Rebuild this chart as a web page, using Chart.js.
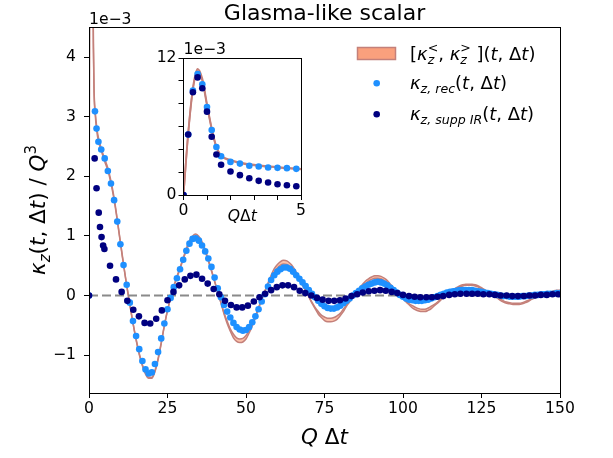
<!DOCTYPE html>
<html><head><meta charset="utf-8">
<script src="https://cdn.jsdelivr.net/npm/chart.js@4.4.1/dist/chart.umd.min.js"></script>
<style>
html,body{margin:0;padding:0;background:#fff;}
#wrap{position:relative;width:613px;height:458px;background:#fff;}
#main{position:absolute;left:0;top:0;width:613px;height:458px;}
#inset{position:absolute;left:130px;top:30px;width:185px;height:200px;}
</style></head><body>
<div id="wrap"><canvas id="main" width="613" height="458"></canvas><canvas id="inset" width="185" height="200"></canvas></div>
<script>
// ---------------- data (values in units of 1e-3) ----------------
const xTicks = [0, 25, 50, 75, 100, 125, 150];
const yTicks = [-1, 0, 1, 2, 3, 4];
const insetXTicks = [0, 1, 2, 3, 4, 5];
const insetYTicks = [0, 2, 4, 6, 8, 10, 12];

// band [kappa_z^<, kappa_z^>]
const bandX = [0,0.2,0.4,0.6,0.8,1.0,1.2,1.4,1.6,2,2.5,3,4,5,
 6,7,8,9,10,11,12,13,14,15,16,17,18,19,20,21,22,23,24,25,26,27,28,29,30,
 31,32,33,34,35,36,37,38,39,40,41,42,43,44,45,46,47,48,49,50,51,52,53,54,55,
 56,57,58,59,60,61,62,63,64,65,66,67,68,69,70,71,72,73,74,75,76,77,78,79,80,
 81,82,83,84,85,86,87,88,89,90,91,92,93,94,95,96,97,98,99,100,101,102,103,104,105,
 106,107,108,109,110,111,112,113,114,115,116,117,118,119,120,121,122,123,124,125,
 126,127,128,129,130,131,132,133,134,135,136,137,138,139,140,141,142,143,144,145,
 146,147,148,149,150];
const kappaGreater = [0,5.45,9.39,11.05,10.2,7.98,5.86,4.24,3.48,3.08,2.81,2.65,2.45,2.29,
 2.14,1.92,1.64,1.28,0.90,0.53,0.17,-0.15,-0.46,-0.75,-0.99,-1.18,-1.32,-1.39,-1.39,-1.28,-1.08,-0.81,-0.51,-0.25,-0.04,0.15,0.32,0.47,0.63,
 0.79,0.92,1.00,1.03,0.99,0.90,0.77,0.60,0.43,0.24,0.06,-0.12,-0.31,-0.47,-0.60,-0.71,-0.77,-0.79,-0.78,-0.73,-0.63,-0.51,-0.37,-0.22,-0.07,
 0.07,0.21,0.34,0.45,0.52,0.57,0.59,0.58,0.54,0.48,0.39,0.30,0.19,0.08,-0.02,-0.13,-0.22,-0.31,-0.37,-0.42,-0.44,-0.44,-0.43,-0.40,-0.34,
 -0.27,-0.18,-0.11,-0.03,0.04,0.12,0.18,0.24,0.28,0.31,0.33,0.33,0.32,0.29,0.25,0.19,0.13,0.06,0.01,-0.05,-0.11,-0.16,-0.21,-0.24,-0.26,
 -0.27,-0.27,-0.25,-0.22,-0.17,-0.13,-0.08,-0.03,0.01,0.05,0.10,0.13,0.16,0.18,0.19,0.19,0.19,0.18,0.16,0.13,
 0.10,0.06,0.02,-0.01,-0.04,-0.08,-0.11,-0.13,-0.14,-0.15,-0.15,-0.15,-0.14,-0.12,-0.10,-0.06,-0.04,-0.01,0.01,0.03,
 0.05,0.06,0.08,0.09,0.09];
const kappaLess = [0,5.35,9.21,10.85,10.0,7.82,5.74,4.16,3.42,3.02,2.75,2.59,2.41,2.25,
 2.10,1.88,1.60,1.26,0.88,0.51,0.17,-0.15,-0.46,-0.73,-0.97,-1.16,-1.30,-1.37,-1.37,-1.26,-1.06,-0.79,-0.50,-0.25,-0.04,0.15,0.30,0.45,0.61,
 0.75,0.88,0.96,0.99,0.95,0.86,0.74,0.58,0.41,0.24,0.06,-0.12,-0.29,-0.43,-0.56,-0.65,-0.71,-0.73,-0.72,-0.67,-0.59,-0.47,-0.35,-0.20,-0.07,
 0.07,0.19,0.30,0.39,0.46,0.51,0.53,0.52,0.48,0.42,0.35,0.26,0.17,0.08,-0.02,-0.11,-0.20,-0.27,-0.33,-0.36,-0.38,-0.38,-0.37,-0.34,-0.30,
 -0.23,-0.16,-0.09,-0.03,0.04,0.10,0.16,0.20,0.24,0.27,0.29,0.29,0.28,0.25,0.21,0.17,0.11,0.06,0.01,-0.05,-0.09,-0.14,-0.17,-0.20,-0.22,
 -0.23,-0.23,-0.21,-0.18,-0.15,-0.11,-0.06,-0.03,0.01,0.05,0.08,0.11,0.14,0.16,0.17,0.17,0.17,0.16,0.14,0.11,
 0.08,0.06,0.02,-0.01,-0.04,-0.06,-0.09,-0.11,-0.12,-0.13,-0.13,-0.13,-0.12,-0.10,-0.08,-0.06,-0.04,-0.01,0.01,0.03,
 0.05,0.06,0.06,0.07,0.07];

// kappa_{z,rec} (main panel)
const recX = [0,1.9,2.4,3.0,3.9,5,6,7,8,9,10,11,12,13,14,15,16,17,18,19,20,21,22,23,24,25,26,27,28,29,30,
 31,32,33,34,35,36,37,38,39,40,41,42,43,44,45,46,47,48,49,50,51,52,53,54,55,56,57,58,59,60,
 61,62,63,64,65,66,67,68,69,70,71,72,73,74,75,76,77,78,79,80,81,82,83,84,85,86,87,88,89,90,
 91,92,93,94,95,96,97,98,99,100,101,102,103,104,105,106,107,108,109,110,111,112,113,114,115,116,117,118,119,120,
 121,122,123,124,125,126,127,128,129,130,131,132,133,134,135,136,137,138,139,140,141,142,143,144,145,146,147,148,149,150];
const recY = [0,3.09,2.80,2.58,2.45,2.30,2.09,1.88,1.60,1.24,0.86,0.51,0.18,-0.12,-0.43,-0.68,-0.90,-1.10,-1.24,-1.31,-1.29,-1.15,-0.95,-0.72,-0.47,-0.23,-0.04,0.14,0.29,0.44,0.60,
 0.75,0.87,0.95,0.96,0.92,0.84,0.74,0.62,0.48,0.30,0.12,-0.03,-0.16,-0.27,-0.37,-0.46,-0.53,-0.57,-0.59,-0.58,-0.53,-0.45,-0.35,-0.23,-0.10,0.02,0.15,0.26,0.34,0.40,
 0.44,0.47,0.47,0.45,0.40,0.34,0.28,0.22,0.16,0.09,0.03,-0.03,-0.09,-0.14,-0.18,-0.21,-0.22,-0.22,-0.20,-0.17,-0.13,-0.09,-0.05,0.00,0.04,0.08,0.12,0.15,0.18,0.20,
 0.22,0.23,0.22,0.20,0.17,0.13,0.09,0.05,0.01,-0.02,-0.05,-0.07,-0.08,-0.09,-0.09,-0.09,-0.08,-0.07,-0.05,-0.03,-0.01,0.01,0.03,0.05,0.06,0.07,0.08,0.09,0.09,0.09,
 0.09,0.09,0.08,0.07,0.06,0.05,0.04,0.03,0.02,0.01,0.00,-0.01,-0.01,-0.02,-0.02,-0.02,-0.02,-0.01,-0.01,0.00,0.00,0.01,0.01,0.02,0.02,0.03,0.03,0.03,0.04,0.04];

// kappa_{z,supp IR} (main panel)
const suppX = [0,1.8,2.4,3.1,3.5,4.0,4.5,4.9,6.7,8.6,10.4,12.2,14.1,15.9,17.7,19.5,21.4,23.2,25.0,26.9,28.7,30.5,32.3,34.2,36.0,37.8,39.7,41.5,
 43.3,45.2,47.0,48.8,50.6,52.5,54.3,56.1,58.0,59.8,61.6,63.4,65.3,67.1,68.9,70.8,72.6,74.4,76.3,78.1,79.9,81.7,83.6,85.4,87.2,89.1,90.9,92.7,94.5,96.4,
 98.2,100.0,101.9,103.7,105.5,107.4,109.2,111.0,112.8,114.7,116.5,118.3,120.2,122.0,123.8,125.6,127.5,129.3,131.1,133.0,134.8,136.6,138.5,140.3,142.1,143.9,145.8,147.6,149.4];
const suppY = [0,2.30,1.80,1.39,1.15,0.98,0.84,0.78,0.50,0.27,0.06,-0.09,-0.24,-0.35,-0.46,-0.47,-0.39,-0.25,-0.08,0.06,0.17,0.27,0.33,0.35,0.28,0.20,0.11,0.02,
 -0.09,-0.16,-0.20,-0.20,-0.17,-0.10,-0.03,0.03,0.09,0.14,0.17,0.17,0.14,0.08,0.04,0.00,-0.04,-0.07,-0.09,-0.09,-0.08,-0.05,-0.01,0.02,0.05,0.07,0.08,0.09,0.08,0.06,
 0.04,0.01,-0.01,-0.02,-0.03,-0.03,-0.03,-0.02,-0.01,0.01,0.02,0.03,0.03,0.03,0.03,0.02,0.02,0.01,0.00,0.00,-0.01,-0.01,-0.01,0.00,0.00,0.01,0.01,0.02,0.02];

// inset (early times)
const insetX = [0,0.2,0.4,0.6,0.8,1.0,1.2,1.4,1.6,2.0,2.4,2.8,3.2,3.6,4.0,4.4,4.8];
const insetRec = [0,5.3,9.15,10.6,9.7,7.7,5.7,4.2,3.4,2.9,2.75,2.56,2.5,2.41,2.38,2.35,2.29];
const insetSupp = [0,5.3,9.0,10.3,9.35,7.3,5.1,3.55,2.65,2.06,1.74,1.47,1.24,1.09,0.94,0.85,0.76];

// ---------------- styling ----------------
const FF = '"DejaVu Sans"';
const REC = '#1e90ff', SUPP = '#000080', EDGE = 'rgb(196,128,122)', FILL = 'rgb(250,160,125)', BANDFILL = 'rgba(250,160,125,0.65)';
Chart.defaults.font.family = FF;
Chart.defaults.color = '#000';
const pts = (xs, ys) => xs.map((x, i) => ({x: x, y: ys[i]}));
const fmt = v => (v < 0 ? '\u2212' + (-v) : String(v));

function segFont(size, s){ return (s.it ? 'italic ' : '') + (size * (s.sz || 1)) + 'px ' + FF; }
function richWidth(ctx, segs, size){
  let w = 0, pend = 0;
  for (const s of segs){ ctx.font = segFont(size, s); const sw = ctx.measureText(s.t).width;
    if (s.stack) pend = Math.max(pend, sw); else { w += Math.max(sw, pend); pend = 0; } }
  return w;
}
function drawRich(ctx, segs, x, y, size, align){
  const w = richWidth(ctx, segs, size);
  let cx = align === 'center' ? x - w / 2 : (align === 'right' ? x - w : x);
  let pend = 0;
  ctx.textAlign = 'left'; ctx.textBaseline = 'alphabetic';
  for (const s of segs){ ctx.font = segFont(size, s); const sw = ctx.measureText(s.t).width;
    ctx.fillText(s.t, cx, y + (s.dy || 0) * size);
    if (s.stack) pend = Math.max(pend, sw); else { cx += Math.max(sw, pend); pend = 0; } }
}
const SUB = {sz: 0.7, dy: 0.22}, SUP = {sz: 0.7, dy: -0.42};
const tArgs = [{t:'('},{t:'t',it:1},{t:', \u0394'},{t:'t',it:1},{t:')'}];
const yLabelSegs = [{t:'\u03ba',it:1},Object.assign({t:'z',it:1},SUB),{t:'('},{t:'t',it:1},{t:', \u0394'},{t:'t',it:1},{t:') / '},{t:'Q',it:1},Object.assign({t:'3'},SUP)];
const xLabelSegs = [{t:'Q',it:1},{t:' \u0394'},{t:'t',it:1}];
const insetXLabelSegs = [{t:'Q',it:1},{t:'\u0394'},{t:'t',it:1}];
const leg1 = [{t:'['},{t:'\u03ba',it:1},Object.assign({t:'<',stack:1},SUP),Object.assign({t:'z',it:1},{sz:0.7,dy:0.26}),{t:', '},
  {t:'\u03ba',it:1},Object.assign({t:'>',stack:1},SUP),Object.assign({t:'z',it:1},{sz:0.7,dy:0.26}),{t:' ]'}].concat(tArgs);
const leg2 = [{t:'\u03ba',it:1},Object.assign({t:'z, rec',it:1},SUB)].concat(tArgs);
const leg3 = [{t:'\u03ba',it:1},Object.assign({t:'z, supp IR',it:1},SUB)].concat(tArgs);

function alignPx(p){ return Math.round(p - 0.5) + 0.5; }
const framePlugin = { id:'frame', afterDraw(c){
  const a = c.chartArea, ctx = c.ctx; ctx.save(); ctx.strokeStyle = '#000'; ctx.lineWidth = 1;
  const l = alignPx(a.left), r = alignPx(a.right), t = alignPx(a.top), b = alignPx(a.bottom);
  ctx.strokeRect(l, t, r - l, b - t); ctx.restore(); } };
const whiteBg = { id:'whitebg', beforeDraw(c){ const a = c.chartArea, ctx = c.ctx; ctx.save(); ctx.fillStyle = '#fff'; ctx.fillRect(a.left, a.top, a.right - a.left, a.bottom - a.top); ctx.restore(); } };

const mainText = { id:'mainText', afterDraw(c){
  const a = c.chartArea, ctx = c.ctx; ctx.save(); ctx.fillStyle = '#000';
  ctx.font = '22px ' + FF; ctx.textAlign = 'center'; ctx.textBaseline = 'alphabetic';
  ctx.fillText('Glasma-like scalar', (a.left + a.right) / 2, 19.5);
  ctx.font = '15.6px ' + FF; ctx.textAlign = 'left';
  ctx.fillText('1e\u22123', a.left, 24);
  drawRich(ctx, xLabelSegs, (a.left + a.right) / 2, 444, 21.5, 'center');
  ctx.save(); ctx.translate(45, (a.top + a.bottom) / 2); ctx.rotate(-Math.PI / 2);
  drawRich(ctx, yLabelSegs, 0, 0, 21.5, 'center'); ctx.restore();
  // legend
  ctx.fillStyle = FILL; ctx.fillRect(357.5, 47.5, 38, 12);
  ctx.strokeStyle = EDGE; ctx.lineWidth = 1.5; ctx.strokeRect(357.5, 47.5, 38, 12);
  ctx.fillStyle = REC; ctx.beginPath(); ctx.arc(376.7, 83.3, 3.3, 0, 2 * Math.PI); ctx.fill();
  ctx.fillStyle = SUPP; ctx.beginPath(); ctx.arc(376.7, 114.3, 3.3, 0, 2 * Math.PI); ctx.fill();
  ctx.fillStyle = '#000';
  drawRich(ctx, leg1, 410, 59.5, 18, 'left');
  drawRich(ctx, leg2, 410, 89.3, 18, 'left');
  drawRich(ctx, leg3, 410, 120, 18, 'left');
  ctx.restore(); } };

const insetText = { id:'insetText', afterDraw(c){
  const a = c.chartArea, ctx = c.ctx; ctx.save(); ctx.fillStyle = '#000';
  ctx.font = '15.6px ' + FF; ctx.textAlign = 'left'; ctx.textBaseline = 'alphabetic';
  ctx.fillText('1e\u22123', a.left, 24);
  drawRich(ctx, insetXLabelSegs, (a.left + a.right) / 2, 191, 15.6, 'center');
  ctx.restore(); } };

function axisOpts(extra){
  return Object.assign({
    type: 'linear',
    grid: { drawOnChartArea: false, drawTicks: true, tickLength: 5, tickColor: '#000', tickWidth: 1 },
    border: { display: true, color: '#000', width: 1 }
  }, extra);
}
function bandSets(w){
  return [
    { label:'kappaGreater', data: pts(bandX, kappaGreater), showLine: true, borderColor: EDGE, borderWidth: w,
      pointRadius: 0, cubicInterpolationMode: 'monotone', fill: false, order: 3 },
    { label:'kappaLess', data: pts(bandX, kappaLess), showLine: true, borderColor: EDGE, borderWidth: w,
      pointRadius: 0, cubicInterpolationMode: 'monotone', fill: '-1', backgroundColor: BANDFILL, order: 4 }
  ];
}
const dotOpts = col => ({ showLine: false, pointRadius: 3.3, pointBackgroundColor: col, pointBorderWidth: 0, pointBorderColor: col, backgroundColor: col });

new Chart(document.getElementById('main'), {
  type: 'scatter',
  data: { datasets: [
    Object.assign({ label:'supp', data: pts(suppX, suppY), order: 0 }, dotOpts(SUPP)),
    Object.assign({ label:'rec', data: pts(recX, recY), order: 1 }, dotOpts(REC)),
    { label:'zero', data: [{x: xTicks[0], y: 0}, {x: xTicks[xTicks.length - 1], y: 0}], showLine: true, borderColor: '#8a8a8a',
      borderWidth: 2, borderDash: [9, 4], pointRadius: 0, order: 2 }
  ].concat(bandSets(1.5)) },
  options: {
    responsive: false, animation: false, devicePixelRatio: 1, events: [],
    layout: { padding: { left: 0, right: 53, top: 27, bottom: 0 } },
    plugins: { legend: { display: false }, tooltip: { enabled: false }, title: { display: false } },
    scales: {
      x: axisOpts({ min: 0, max: 150, afterFit: s => { s.height = 65; },
        afterBuildTicks: s => { s.ticks = xTicks.map(v => ({value: v})); },
        ticks: { font: { size: 15.6, family: FF }, color: '#000', padding: 2, maxRotation: 0, autoSkip: false, callback: fmt } }),
      y: axisOpts({ min: -1.636, max: 4.505, afterFit: s => { s.width = 89; },
        afterBuildTicks: s => { s.ticks = yTicks.map(v => ({value: v})); },
        ticks: { font: { size: 15.6, family: FF }, color: '#000', padding: 8, autoSkip: false, callback: fmt } })
    }
  },
  plugins: [framePlugin, mainText]
});

new Chart(document.getElementById('inset'), {
  type: 'scatter',
  data: { datasets: [
    Object.assign({ label:'supp', data: pts(insetX, insetSupp), order: 0 }, dotOpts(SUPP)),
    Object.assign({ label:'rec', data: pts(insetX, insetRec), order: 1 }, dotOpts(REC))
  ].concat(bandSets(1.8)) },
  options: {
    responsive: false, animation: false, devicePixelRatio: 1, events: [],
    layout: { padding: { left: 0, right: 14, top: 28, bottom: 0 } },
    plugins: { legend: { display: false }, tooltip: { enabled: false } },
    scales: {
      x: axisOpts({ min: 0, max: 5, afterFit: s => { s.height = 35; },
        afterBuildTicks: s => { s.ticks = insetXTicks.map(v => ({value: v})); },
        ticks: { font: { size: 15.6, family: FF }, color: '#000', padding: 2, maxRotation: 0, autoSkip: false,
          callback: v => (v === insetXTicks[0] || v === insetXTicks[insetXTicks.length - 1]) ? fmt(v) : '' } }),
      y: axisOpts({ min: 0, max: 12, afterFit: s => { s.width = 53.5; },
        afterBuildTicks: s => { s.ticks = insetYTicks.map(v => ({value: v})); },
        ticks: { font: { size: 15.6, family: FF }, color: '#000', padding: 2, autoSkip: false,
          callback: v => (v === insetYTicks[0] || v === insetYTicks[insetYTicks.length - 1]) ? fmt(v) : '' } })
    }
  },
  plugins: [whiteBg, framePlugin, insetText]
});
</script></body></html>
